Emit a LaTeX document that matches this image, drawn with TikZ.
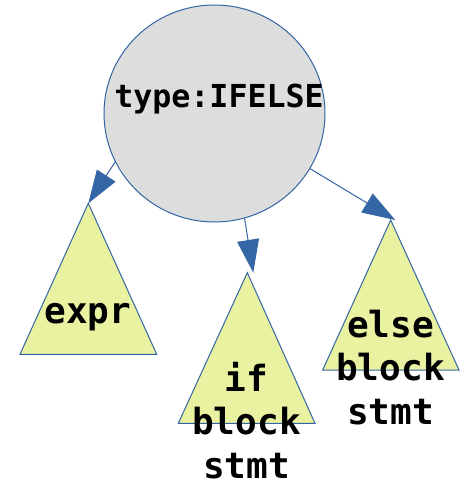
\documentclass[tikz,border=0pt]{standalone}
\usepackage{fontspec}
\setmonofont{DejaVu Sans Mono}
\usetikzlibrary{arrows.meta,shapes.geometric}
\definecolor{lineblue}{RGB}{52,101,164}
\definecolor{nodegray}{RGB}{221,221,221}
\definecolor{leafyellow}{RGB}{232,242,161}
\begin{document}
\begin{tikzpicture}[x=0.2mm,y=-0.2mm,
 rootnode/.style={ellipse,draw=lineblue,fill=nodegray,line width=0.2mm,
 minimum width=44.2mm,minimum height=43.4mm,inner sep=0pt},
 leaf/.style={draw=lineblue,fill=leafyellow,line width=0.2mm},
 lbl/.style={font=\ttfamily\bfseries\fontsize{20.5}{24.75}\selectfont,
 align=center,inner sep=0pt,anchor=base},
 a/.style={-{Triangle[length=6.6mm,width=4.4mm]},lineblue,line width=0.2mm}]
\useasboundingbox (0,0) rectangle (467,484);
\node[rootnode] (root) at (214.5,113.5) {};
\node[font=\ttfamily\bfseries\fontsize{18}{20}\selectfont,inner sep=0pt,anchor=base]
 (type) at (219,107) {type:IFELSE};
% subtrees
\draw[leaf] (20,354.3) -- (88.3,203.3) coordinate (exprtop) -- (156.7,354.3) -- cycle;
\draw[leaf] (178.3,423.3) -- (247.3,272.7) coordinate (iftop) -- (315,423.3) -- cycle;
\draw[leaf] (322.7,370) -- (390.7,220) coordinate (elsetop) -- (459,370) -- cycle;
% base = last line
\node[lbl] (expr) at (88,323) {expr};
\node[lbl] (ifblk) at (246.5,478) {if\\block\\stmt};
\node[lbl] (elseblk) at (390.5,424) {else\\block\\stmt};
% edges
\draw[a] (root.206) -- (exprtop);
\draw[a] (root.286) -- ([xshift=3.4]iftop);
\draw[a] (root.330) -- ([xshift=2.6]elsetop);
\end{tikzpicture}
\end{document}
